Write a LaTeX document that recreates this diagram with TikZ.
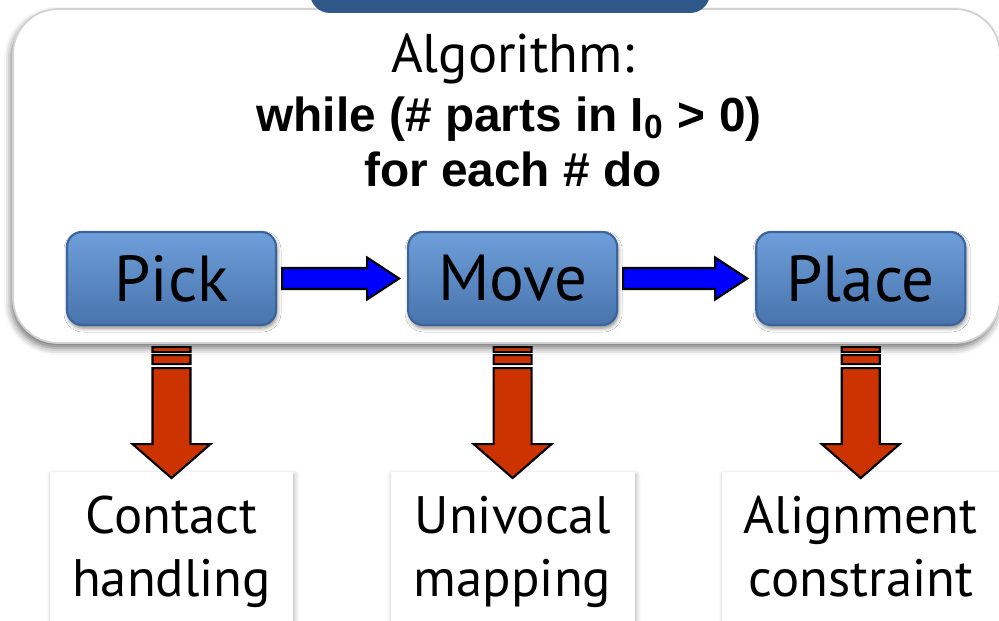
\documentclass[tikz,border=0pt]{standalone}
\usepackage{fontspec}
\setmainfont{PT Sans}
\newfontfamily\arialfont{Liberation Sans}
\usetikzlibrary{calc,positioning,shadows.blur}

\definecolor{tabblue}{HTML}{2F5787}
\definecolor{steptop}{HTML}{6E9EDA}
\definecolor{stepfill}{HTML}{5284C4}
\definecolor{stepedge}{HTML}{3A649B}
\definecolor{arrowred}{HTML}{CC3300}

\tikzset{
  panel/.style={draw=gray!35, fill=white, line width=0.5pt, rounded corners=0.45cm,
    blur shadow={shadow xshift=-0.02cm, shadow yshift=-0.05cm, shadow blur radius=0.07cm, shadow opacity=55}},
  stepbox/.style={draw=stepedge, line width=0.6pt, rounded corners=0.15cm,
    top color=steptop, bottom color=stepfill!88!black,
    minimum width=2.09cm, minimum height=0.93cm, inner sep=0pt,
    font=\fontsize{18.5}{20}\selectfont,
    blur shadow={shadow xshift=0.01cm, shadow yshift=-0.03cm, shadow blur radius=0.04cm, shadow opacity=50}},
  resultbox/.style={fill=white, align=center, inner xsep=0.22cm, inner ysep=0.24cm,
    font=\fontsize{15}{17.9}\selectfont,
    blur shadow={shadow xshift=0.015cm, shadow yshift=-0.03cm, shadow blur radius=0.05cm, shadow opacity=30}},
  % block arrow between two step boxes
  flowarrow/.style={draw=black, fill=blue, line width=0.6pt, line join=miter,
    to path={($(\tikztostart)+(0.05,0.105)$) -- ($(\tikztotarget)+(-0.40,0.105)$)
      -- ($(\tikztotarget)+(-0.40,0.21)$) -- ($(\tikztotarget)+(-0.08,0)$)
      -- ($(\tikztotarget)+(-0.40,-0.21)$) -- ($(\tikztotarget)+(-0.40,-0.105)$)
      -- ($(\tikztostart)+(0.05,-0.105)$) -- cycle}},
  % striped down arrow from a step to its result
  splitarrow/.style={draw=black, fill=arrowred, line width=0.6pt, line join=miter,
    to path={($(\tikztostart)+(-0.19,-0.21)$) rectangle ($(\tikztostart)+(0.19,-0.26)$)
      ($(\tikztostart)+(-0.19,-0.29)$) rectangle ($(\tikztostart)+(0.19,-0.38)$)
      ($(\tikztostart)+(-0.19,-0.42)$) -- ($(\tikztotarget)+(-0.19,0.27)$)
      -- ($(\tikztotarget)+(-0.39,0.27)$) -- ($(\tikztotarget)+(0,-0.07)$)
      -- ($(\tikztotarget)+(0.39,0.27)$) -- ($(\tikztotarget)+(0.19,0.27)$)
      -- ($(\tikztostart)+(0.19,-0.42)$) -- cycle}}
}

\begin{document}
\begin{tikzpicture}
  \useasboundingbox (0,0) rectangle (9.99,6.2);
  \clip (0,0) rectangle (9.99,6.2);

  % outer panel and the tab above it
  \draw[panel] (0.13,2.77) rectangle (10.00,6.11);
  \fill[tabblue, rounded corners=0.2cm] (3.10,6.07) rectangle (7.10,6.60);

  % algorithm header
  \node[anchor=base, font=\fontsize{15.5}{18}\selectfont] (title) at (5.13,5.48) {Algorithm:};
  \node[anchor=base, font=\arialfont\bfseries\fontsize{13.6}{16}\selectfont] (loop) at (5.09,4.89)
    {while (\# parts in I\textsubscript{0} > 0)};
  \node[anchor=base, font=\arialfont\bfseries\fontsize{13.6}{16}\selectfont] (body) at (5.13,4.34)
    {for each \# do};

  % the three steps
  \node[stepbox] (pick) at (1.715,3.415) {Pick};
  \node[stepbox, right=1.30cm of pick] (move) {Move};
  \node[stepbox, right=1.37cm of move] (place) {Place};

  \draw[flowarrow] (pick.east) to (move.west);
  \draw[flowarrow] (move.east) to (place.west);

  % what each step deals with
  \node[resultbox, below=1.45cm of pick, minimum width=2.41cm] (contact) {Contact\\handling};
  \node[resultbox, below=1.45cm of move, minimum width=2.44cm] (mapping) {Univocal\\mapping};
  \node[resultbox, below=1.45cm of place, minimum width=2.76cm] (align) {Alignment\\constraint};

  \draw[splitarrow] (pick.south) to (contact.north);
  \draw[splitarrow] (move.south) to (mapping.north);
  \draw[splitarrow] (place.south) to (align.north);
\end{tikzpicture}
\end{document}
